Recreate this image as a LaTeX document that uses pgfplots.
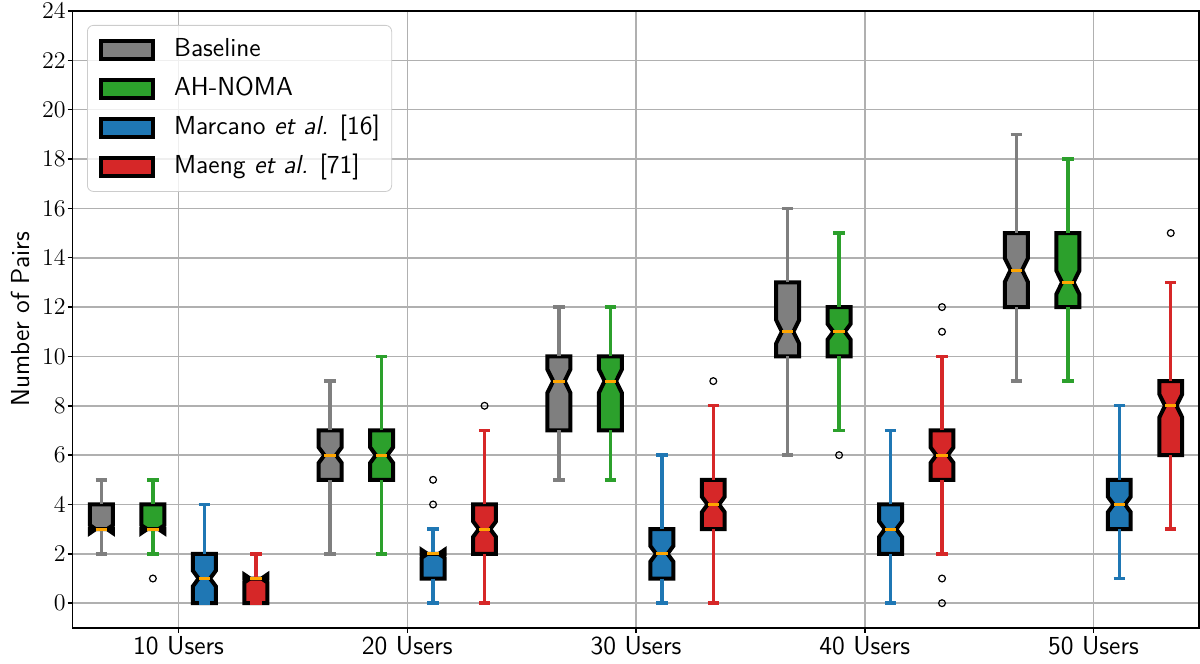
\documentclass[border=0pt]{standalone}
\usepackage{fontspec}
\usepackage{pgfplots}
\pgfplotsset{compat=1.18}

\definecolor{cGray}{HTML}{7F7F7F}
\definecolor{cGreen}{HTML}{2CA02C}
\definecolor{cBlue}{HTML}{1F77B4}
\definecolor{cRed}{HTML}{D62728}
\definecolor{cMed}{HTML}{FFA500}
\definecolor{cGrid}{HTML}{B0B0B0}
\definecolor{cFrame}{HTML}{CCCCCC}

% Notched box: #1 position, #2 colour, #3 low whisker, #4 Q1, #5 median, #6 Q3, #7 high whisker
\newcommand{\nbox}[7]{%
  \pgfmathsetmacro{\bL}{#1-0.05}%
  \pgfmathsetmacro{\bR}{#1+0.05}%
  \pgfmathsetmacro{\cL}{#1-0.025}%
  \pgfmathsetmacro{\cR}{#1+0.025}%
  \pgfmathsetmacro{\nLo}{#5-0.157*(#6-#4)}%
  \pgfmathsetmacro{\nHi}{#5+0.157*(#6-#4)}%
  \edef\doplot{\noexpand\addplot[forget plot, fill=#2, draw=black, line width=2pt, line join=miter]
    coordinates {(\bL,#4) (\bL,\nLo) (\cL,#5) (\bL,\nHi) (\bL,#6) (\bR,#6) (\bR,\nHi) (\cR,#5) (\bR,\nLo) (\bR,#4)} -- cycle;}%
  \doplot
  \edef\doplot{\noexpand\addplot[forget plot, draw=#2, line width=1.7pt] coordinates {(#1,#4) (#1,#3)};}\doplot
  \edef\doplot{\noexpand\addplot[forget plot, draw=#2, line width=1.7pt] coordinates {(#1,#6) (#1,#7)};}\doplot
  \edef\doplot{\noexpand\addplot[forget plot, draw=#2, line width=1.7pt] coordinates {(\cL,#3) (\cR,#3)};}\doplot
  \edef\doplot{\noexpand\addplot[forget plot, draw=#2, line width=1.7pt] coordinates {(\cL,#7) (\cR,#7)};}\doplot
  \edef\doplot{\noexpand\addplot[forget plot, draw=cMed, line width=1.5pt] coordinates {(\cL,#5) (\cR,#5)};}\doplot
}

\begin{document}
\begin{tikzpicture}
\begin{axis}[
  scale only axis,
  width=563pt, height=308.35pt,
  xmin=0.537, xmax=5.461,
  ymin=-1, ymax=24,
  xtick={1,2,3,4,5},
  xticklabels={10 Users, 20 Users, 30 Users, 40 Users, 50 Users},
  ytick={0,2,...,24},
  xticklabel style={font=\sffamily\fontsize{13}{15}\selectfont, yshift=1.5pt},
  yticklabel style={font=\fontsize{13}{15}\selectfont, xshift=2.5pt},
  ylabel={Number of Pairs},
  every axis y label/.style={at={(axis description cs:0,0.5)}, xshift=-26.35pt,
    rotate=90, anchor=center, font=\sffamily\fontsize{13}{15}\selectfont},
  grid=major,
  major grid style={draw=cGrid, line width=0.8pt},
  axis line style={black, line width=0.75pt},
  tick style={black, line width=0.75pt},
  tick align=outside,
  major tick length=2.5pt,
  xtick pos=bottom, ytick pos=left,
  legend image code/.code={\draw[#1, sharp corners, fill opacity=1, line width=2pt] (0pt,-4.5pt) rectangle (26pt,4.5pt);},
  legend cell align=left,
  legend style={at={(0.0127,0.9773)}, anchor=north west,
    draw=cFrame, rounded corners=3pt, fill=white, fill opacity=0.8, text opacity=1,
    font=\sffamily\fontsize{13}{15}\selectfont,
    row sep=3pt, column sep=9.5pt, inner xsep=5.85pt, inner ysep=4pt,
    nodes={inner xsep=0pt, inner ysep=2pt, text height=9.5pt, text depth=3pt}},
]
\addlegendimage{fill=cGray, draw=black}
\addlegendentry{Baseline}
\addlegendimage{fill=cGreen, draw=black}
\addlegendentry{AH-NOMA}
\addlegendimage{fill=cBlue, draw=black}
\addlegendentry{Marcano \textit{et al.} [16]}
\addlegendimage{fill=cRed, draw=black}
\addlegendentry{Maeng \textit{et al.} [71]}

% 10 Users
\nbox{0.6625}{cGray}{2}{3}{3}{4}{5}
\nbox{0.8875}{cGreen}{2}{3}{3}{4}{5}
\nbox{1.1125}{cBlue}{0}{0}{1}{2}{4}
\nbox{1.3375}{cRed}{0}{0}{1}{1}{2}
% 20 Users
\nbox{1.6625}{cGray}{2}{5}{6}{7}{9}
\nbox{1.8875}{cGreen}{2}{5}{6}{7}{10}
\nbox{2.1125}{cBlue}{0}{1}{2}{2}{3}
\nbox{2.3375}{cRed}{0}{2}{3}{4}{7}
% 30 Users
\nbox{2.6625}{cGray}{5}{7}{9}{10}{12}
\nbox{2.8875}{cGreen}{5}{7}{9}{10}{12}
\nbox{3.1125}{cBlue}{0}{1}{2}{3}{6}
\nbox{3.3375}{cRed}{0}{3}{4}{5}{8}
% 40 Users
\nbox{3.6625}{cGray}{6}{10}{11}{13}{16}
\nbox{3.8875}{cGreen}{7}{10}{11}{12}{15}
\nbox{4.1125}{cBlue}{0}{2}{3}{4}{7}
\nbox{4.3375}{cRed}{2}{5}{6}{7}{10}
% 50 Users
\nbox{4.6625}{cGray}{9}{12}{13.5}{15}{19}
\nbox{4.8875}{cGreen}{9}{12}{13}{15}{18}
\nbox{5.1125}{cBlue}{1}{3}{4}{5}{8}
\nbox{5.3375}{cRed}{3}{6}{8}{9}{13}

% Outliers
\addplot[forget plot, only marks, mark=o, mark size=1.7pt, mark options={draw=black, line width=0.6pt}]
  coordinates {(0.8875,1) (2.1125,4) (2.1125,5) (2.3375,8) (3.3375,9)
               (3.8875,6) (4.3375,12) (4.3375,11) (4.3375,1) (4.3375,0) (5.3375,15)};
\end{axis}
% page extent: room for the tick labels and the y label around the axis box
\pgfresetboundingbox
\path ([xshift=-36.35pt, yshift=-17.65pt]current axis.south west)
  rectangle ([xshift=0.5pt, yshift=5.5pt]current axis.north east);
\end{tikzpicture}
\end{document}
